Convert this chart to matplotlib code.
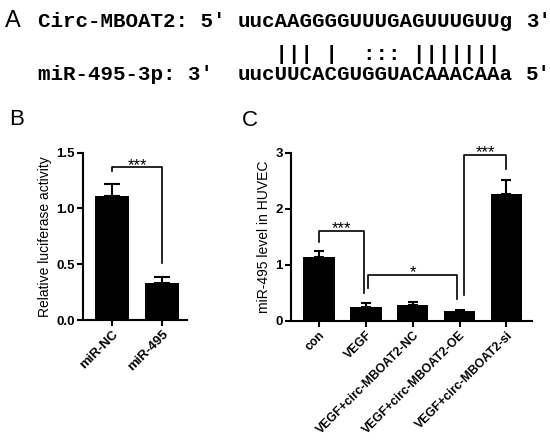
import matplotlib
matplotlib.use("Agg")
import matplotlib.pyplot as plt

plt.rcParams['font.family'] = ['Liberation Sans', 'DejaVu Sans']

# Panel A: sequences
circ_label = "Circ-MBOAT2: 5'"
circ_seq = "uucAAGGGGUUUGAGUUUGUUg"
circ_end = "3'"
pair_line = "   ||| |  ::: |||||||"
mir_label = "miR-495-3p: 3\u2032"
mir_seq = "uucUUCACGUGGUACAAACAAa"
mir_end = "5'"

# Panel B
b_groups = ["miR-NC", "miR-495"]
b_values = [1.11, 0.335]
b_errors = [0.11, 0.05]
b_yticks = [0.0, 0.5, 1.0, 1.5]
b_ticklabels = ["0.0", "0.5", "1.0", "1.5"]

# Panel C
c_groups = ["con", "VEGF", "VEGF+circ-MBOAT2-NC", "VEGF+circ-MBOAT2-OE",
            "VEGF+circ-MBOAT2-si"]
c_values = [1.13, 0.25, 0.28, 0.17, 2.27]
c_errors = [0.12, 0.06, 0.05, 0.03, 0.24]
c_yticks = [0, 1, 2, 3]

# significance brackets: (x1, x2, top, left end, right end, label)
b_brackets = [(0, 1, 1.37, 1.34, 0.51, "***")]
c_brackets = [(0, 0.95, 1.61, 1.41, 0.50, "***"),
              (1.05, 2.95, 0.82, 0.58, 0.38, "*"),
              (3.1, 4, 2.96, 0.46, 2.70, "***")]

fig = plt.figure(figsize=(5.5, 4.4), dpi=100)
mono = dict(family='Liberation Mono', fontweight='bold', fontsize=15)

def px(x, y):
    return x / 550, 1 - y / 440

fig.text(*px(5, 27), "A", fontsize=17, va='baseline')
fig.text(*px(38, 27), circ_label, va='baseline', **mono)
fig.text(*px(238, 27), circ_seq, va='baseline', **mono)
fig.text(*px(526, 27), circ_end, va='baseline', **mono)
fig.text(*px(238, 55), pair_line, va='center', **mono)
fig.text(*px(38, 80), mir_label, va='baseline', **mono)
fig.text(*px(238, 80), mir_seq, va='baseline', **mono)
fig.text(*px(526, 80), mir_end, va='baseline', **mono)

fig.text(*px(9, 125), "B", fontsize=16, va='baseline')
fig.text(*px(242, 126), "C", fontsize=16, va='baseline')


def style(ax, xsize):
    for s in ['top', 'right']:
        ax.spines[s].set_visible(False)
    for s in ['left', 'bottom']:
        ax.spines[s].set_linewidth(1.5)
    ax.tick_params(width=1.5, length=4, labelsize=9.5, pad=2)
    ax.tick_params(axis='x', labelsize=xsize)
    for lab in ax.get_xticklabels() + ax.get_yticklabels():
        lab.set_fontweight('bold')


def brackets(ax, items, off):
    for x1, x2, top, l, r, lab in items:
        ax.plot([x1, x1, x2, x2], [l, top, top, r], color='black', lw=1.2,
                clip_on=False)
        ax.text((x1 + x2) / 2, top + off, lab, ha='center', va='bottom',
                fontsize=12, clip_on=False)


# B
axb = fig.add_axes([83 / 550, 1 - 320 / 440, 104 / 550, 167.3 / 440])
xb = range(len(b_groups))
axb.bar(xb, b_values, width=0.68, color='black')
axb.errorbar(xb, b_values, yerr=[[0] * len(b_values), b_errors], fmt='none',
             ecolor='black', elinewidth=1.5, capsize=6, capthick=1.5)
axb.set_xlim(-0.58, 1.5)
axb.set_ylim(0, 1.5)
axb.set_yticks(b_yticks)
axb.set_yticklabels(b_ticklabels)
axb.set_xticks(list(xb))
axb.set_xticklabels(b_groups, rotation=45, ha='right', rotation_mode='anchor')
axb.set_ylabel("Relative luciferase activity", fontsize=10, labelpad=3)
brackets(axb, b_brackets, -0.05)
style(axb, 9.5)

# C
axc = fig.add_axes([291 / 550, 1 - 320.7 / 440, 240.7 / 550, 168 / 440])
xc = range(len(c_groups))
axc.bar(xc, c_values, width=0.67, color='black')
axc.errorbar(xc, c_values, yerr=[[0] * len(c_values), c_errors], fmt='none',
             ecolor='black', elinewidth=1.5, capsize=3.6, capthick=1.5)
axc.set_xlim(-0.6, 4.54)
axc.set_ylim(0, 3)
axc.set_yticks(c_yticks)
axc.set_xticks(list(xc))
axc.set_xticklabels(c_groups, rotation=45, ha='right', rotation_mode='anchor')
axc.set_ylabel("miR-495 level in HUVEC", fontsize=10, labelpad=3)
brackets(axc, c_brackets, -0.1)
style(axc, 8.8)

fig.savefig("out.png", dpi=100)
